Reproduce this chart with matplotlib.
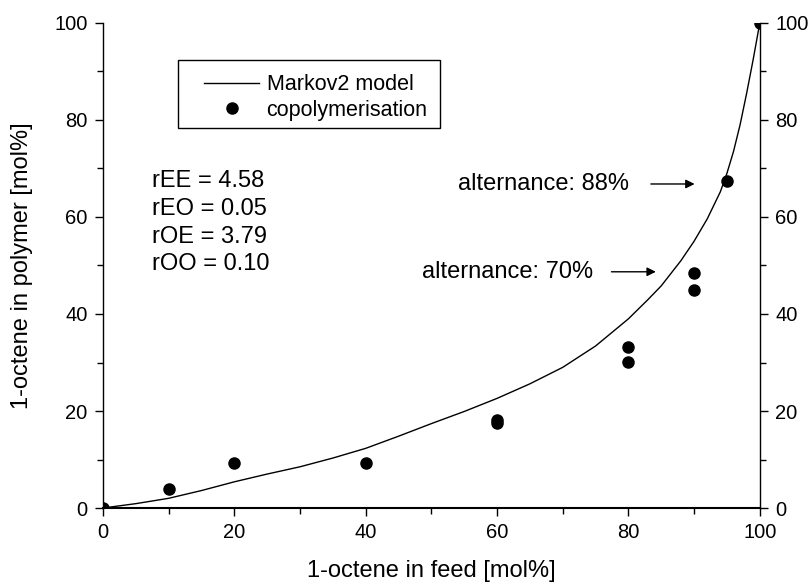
import matplotlib.pyplot as plt
from matplotlib.patches import Rectangle
from matplotlib.ticker import MultipleLocator

plt.rcParams['font.family'] = ['Liberation Sans', 'DejaVu Sans']

# Markov2 model curve
model_x = [0, 5, 10, 15, 20, 25, 30, 35, 40, 45, 50, 55, 60, 65, 70, 75, 80,
           83, 85, 88, 90, 92, 94, 95, 96, 97, 98, 99, 100]
model_y = [0, 0.9, 2.0, 3.6, 5.4, 7.0, 8.5, 10.3, 12.3, 14.8, 17.4, 19.9, 22.6,
           25.6, 29.0, 33.4, 39.0, 43.0, 45.8, 51.0, 55.0, 59.6, 65.2, 69.0,
           73.5, 79.0, 85.5, 92.5, 100]

# copolymerisation experiments
feed = [0, 10, 20, 40, 60, 60, 80, 80, 90, 90, 95, 100]
polymer = [0, 4.0, 9.2, 9.2, 17.5, 18.2, 30.2, 33.1, 44.9, 48.5, 67.5, 100]

params = "rEE = 4.58\nrEO = 0.05\nrOE = 3.79\nrOO = 0.10"

fig = plt.figure(figsize=(8.1, 5.88), dpi=100)
ax = fig.add_axes([0.127, 0.136, 0.811, 0.825])

ax.plot(model_x, model_y, color='black', lw=1.0, label='Markov2 model')
ax.plot(feed, polymer, 'o', color='black', ms=8, label='copolymerisation')

ax.set_xlim(0, 100)
ax.set_ylim(0, 100)
ax.xaxis.set_major_locator(MultipleLocator(20))
ax.xaxis.set_minor_locator(MultipleLocator(10))
ax.yaxis.set_major_locator(MultipleLocator(20))
ax.yaxis.set_minor_locator(MultipleLocator(10))
ax.tick_params(which='both', direction='out', right=True, labelright=True,
               labelsize=14.5, width=1.0)
ax.tick_params(which='major', length=6, pad=5)
ax.tick_params(which='minor', length=4)
ax.spines['top'].set_visible(False)
for s in ['left', 'right']:
    ax.spines[s].set_linewidth(1.0)
ax.spines['bottom'].set_linewidth(1.5)

ax.set_xlabel('1-octene in feed [mol%]', fontsize=17, labelpad=13)
ax.set_ylabel('1-octene in polymer [mol%]', fontsize=17, labelpad=15)

# legend without its own frame, boxed by hand like the original
leg = ax.legend(loc='upper left', bbox_to_anchor=(0.146, 0.905), fontsize=15.5,
                frameon=False, handlelength=2.55, handletextpad=0.35,
                borderpad=0.25, borderaxespad=0, labelspacing=0.2)
ax.add_patch(Rectangle((0.1142, 0.7835), 0.399, 0.1405, transform=ax.transAxes,
                       fill=False, edgecolor='black', lw=1.0))

ax.text(7.5, 58.8, params, fontsize=17, va='center', ha='left',
        linespacing=1.33)

ax.annotate('', xy=(90.5, 66.8), xytext=(83, 66.8),
            arrowprops=dict(arrowstyle='-|>', color='black', lw=1.0,
                            mutation_scale=13))
ax.text(54, 66.7, 'alternance: 88%', fontsize=17, va='center', ha='left')
ax.annotate('', xy=(84.6, 48.7), xytext=(77, 48.7),
            arrowprops=dict(arrowstyle='-|>', color='black', lw=1.0,
                            mutation_scale=13))
ax.text(48.6, 48.7, 'alternance: 70%', fontsize=17, va='center', ha='left')

fig.savefig('out.png', dpi=100)
